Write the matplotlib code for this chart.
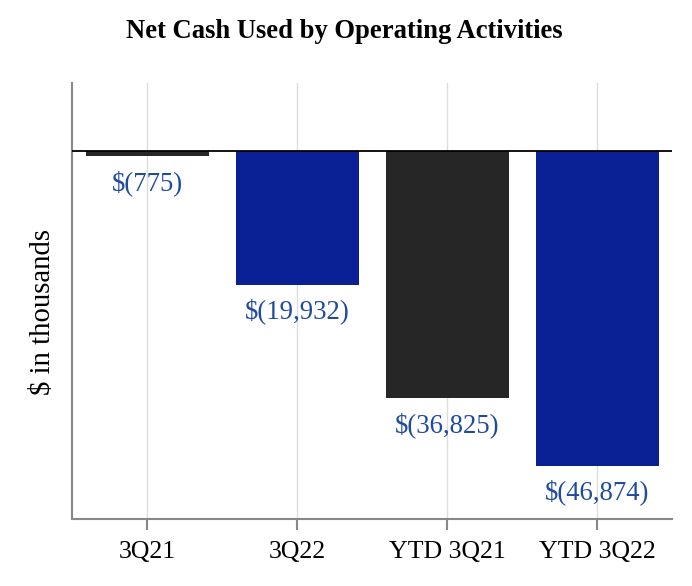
import matplotlib
matplotlib.use("Agg")
import matplotlib.pyplot as plt

categories = ["3Q21", "3Q22", "YTD 3Q21", "YTD 3Q22"]
values = [-775, -19932, -36825, -46874]
labels = ["$(775)", "$(19,932)", "$(36,825)", "$(46,874)"]
colors = ["#262626", "#0a2196", "#262626", "#0a2196"]

plt.rcParams['font.family'] = ['Liberation Serif', 'DejaVu Serif']

fig = plt.figure(figsize=(6.92, 5.86), dpi=100)
ax = fig.add_axes([72/692, 67/586, 600/692, 436/586])

x = list(range(len(categories)))
ax.bar(x, values, width=0.82, color=colors, zorder=2)
ax.axhline(0, color="black", lw=1.3, zorder=3)

for xi, v, lab in zip(x, values, labels):
    ax.annotate(lab, (xi, v), xytext=(0, -10), textcoords="offset points",
                ha="center", va="top", color="#1f4a9e", fontsize=19.3)

ax.set_xlim(-0.5, 3.5)
ax.set_ylim(-54800, 10100)
ax.set_xticks(x)
ax.set_xticklabels(categories, fontsize=18.6)
ax.set_yticks([])
ax.grid(axis="x", color="#dddddd", lw=1, zorder=0)
ax.set_axisbelow(True)
for s in ["top", "right"]:
    ax.spines[s].set_visible(False)
for s in ["left", "bottom"]:
    ax.spines[s].set_color("#888888")
    ax.spines[s].set_linewidth(1.5)
ax.tick_params(axis="x", colors="#888888", length=8, width=1.5, labelcolor="black", pad=8)
ax.set_ylabel("$ in thousands", fontsize=20.7)
ax.yaxis.set_label_coords(-0.027, 0.475)

fig.text(344/692, 1 - 31/586, "Net Cash Used by Operating Activities", ha="center", va="center",
         fontsize=19.2, fontweight="bold")

fig.savefig("out.png", dpi=100)
